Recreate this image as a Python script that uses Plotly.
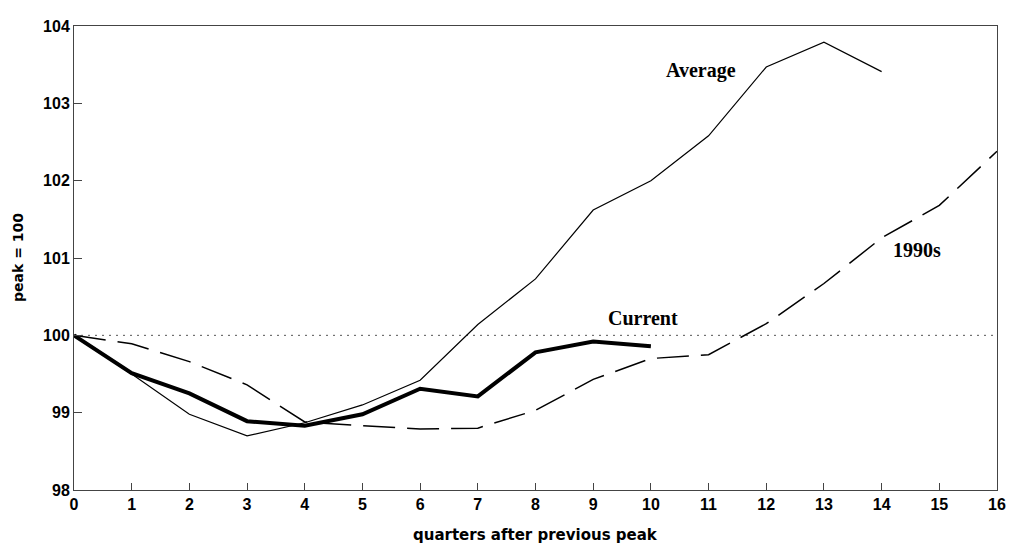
import plotly.graph_objects as go

quarters = list(range(17))
average = [100, 99.5, 98.98, 98.70, 98.87, 99.10, 99.42, 100.14, 100.73, 101.62, 102.0, 102.58, 103.47, 103.79, 103.41]
current = [100, 99.51, 99.25, 98.89, 98.83, 98.98, 99.31, 99.21, 99.78, 99.92, 99.86]
nineties = [100, 99.89, 99.66, 99.36, 98.88, 98.83, 98.79, 98.80, 99.03, 99.43, 99.70, 99.75, 100.15, 100.67, 101.26, 101.68, 102.38]

y_ticks = [98, 99, 100, 101, 102, 103, 104]
x_ticks = list(range(17))

labels = [
    {"text": "Average", "x": 10.87, "y": 103.43},
    {"text": "Current", "x": 9.86, "y": 100.22},
    {"text": "1990s", "x": 14.62, "y": 101.1},
]

fig = go.Figure()
fig.add_trace(go.Scatter(x=quarters, y=[100] * len(quarters), mode="lines",
                         line=dict(color="#555555", width=1, dash="2px,5px"),
                         hoverinfo="skip", showlegend=False))
fig.add_trace(go.Scatter(x=quarters[:len(nineties)], y=nineties, mode="lines",
                         line=dict(color="black", width=1.5, dash="32px,12px"),
                         name="1990s", showlegend=False))
fig.add_trace(go.Scatter(x=quarters[:len(average)], y=average, mode="lines",
                         line=dict(color="black", width=1.2),
                         name="Average", showlegend=False))
fig.add_trace(go.Scatter(x=quarters[:len(current)], y=current, mode="lines",
                         line=dict(color="black", width=4),
                         name="Current", showlegend=False))

for lab in labels:
    fig.add_annotation(x=lab["x"], y=lab["y"], text="<b>" + lab["text"] + "</b>",
                       showarrow=False,
                       font=dict(family="Liberation Serif, Times New Roman, serif", size=20, color="black"))

tick_font = dict(family="Liberation Sans, Arial, sans-serif", size=16, color="black")
title_font = dict(family="DejaVu Sans, sans-serif", size=15, color="black")

fig.add_annotation(xref="paper", yref="paper", x=0.5, y=0, yshift=-45, yanchor="middle",
                   text="<b>quarters after previous peak</b>", showarrow=False, font=title_font)
fig.add_annotation(xref="paper", yref="paper", x=0, y=0.5, xshift=-56, xanchor="center",
                   textangle=-90, text="<b>peak = 100</b>", showarrow=False,
                   font=dict(family="DejaVu Sans, sans-serif", size=14, color="black"))

fig.update_layout(
    width=1008, height=538,
    margin=dict(l=66, r=10, t=11, b=56),
    plot_bgcolor="white", paper_bgcolor="white",
    xaxis=dict(range=[0, 16], tickvals=x_ticks, ticktext=["<b>%d</b>" % v for v in x_ticks],
               showgrid=False, zeroline=False, showline=True, linecolor="#444444", linewidth=1,
               mirror=True, ticks="inside", ticklen=7, tickcolor="#444444",
               tickfont=tick_font),
    yaxis=dict(range=[98, 104], tickvals=y_ticks, ticktext=["<b>%d</b>" % v for v in y_ticks],
               showgrid=False, zeroline=False, showline=True, linecolor="#444444", linewidth=1,
               mirror=True, ticks="inside", ticklen=8, tickcolor="#444444",
               tickfont=tick_font),
)

fig.write_html("out.html")
